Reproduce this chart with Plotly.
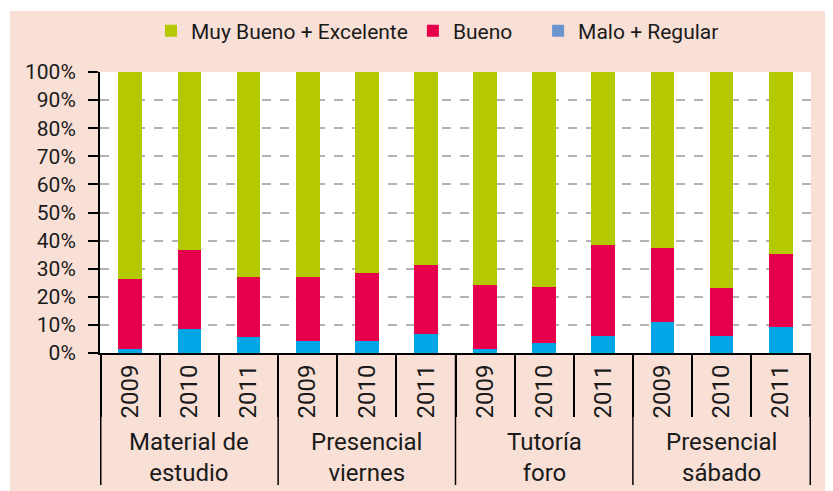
import plotly.graph_objects as go

group_names = ["Material de estudio", "Presencial viernes", "Tutoría foro", "Presencial sábado"]
group_labels = ["Material de<br>estudio", "Presencial<br>viernes", "Tutoría<br>foro", "Presencial<br>sábado"]
year_labels = ["2009", "2010", "2011"]

malo_regular = [1.3, 8.5, 5.7, 4.2, 4.3, 6.7, 1.3, 3.5, 6.1, 10.9, 6.0, 9.3]
bueno = [25.0, 28.1, 21.4, 22.9, 24.2, 24.6, 22.8, 20.0, 32.3, 26.6, 17.1, 25.9]
muy_bueno_excelente = [73.7, 63.4, 72.9, 72.9, 71.5, 68.7, 75.9, 76.5, 61.6, 62.5, 76.9, 64.8]

y_ticks = [0, 10, 20, 30, 40, 50, 60, 70, 80, 90, 100]
y_tick_labels = ["0%", "10%", "20%", "30%", "40%", "50%", "60%", "70%", "80%", "90%", "100%"]

FONT = "Roboto, Liberation Sans, sans-serif"
GREEN = "#b5c900"
RED = "#e6004c"
CYAN = "#00a6e6"
LEGEND_BLUE = "#6a95cf"
PINK = "#f9e0d6"
TXT = "#1a1a1a"

# one category key per bar (group + year); ticks show the year only
cat_keys = [f"{g} {y}" for g in group_names for y in year_labels]
cat_ticks = [y for g in group_names for y in year_labels]

fig = go.Figure()
fig.add_trace(go.Bar(x=cat_keys, y=malo_regular, name="Malo + Regular", marker_color=CYAN,
                     marker_line_width=0, showlegend=False))
fig.add_trace(go.Bar(x=cat_keys, y=bueno, name="Bueno\u00a0\u00a0\u00a0\u00a0",
                     marker_color=RED, marker_line_width=0, legendrank=2))
fig.add_trace(go.Bar(x=cat_keys, y=muy_bueno_excelente, name="Muy Bueno + Excelente",
                     marker_color=GREEN, marker_line_width=0, legendrank=1))
# legend-only entry (legend swatch colour differs from bar colour in the original)
fig.add_trace(go.Scatter(x=[None], y=[None], mode="markers", name="Malo + Regular",
                         marker=dict(symbol="square", size=12, color=LEGEND_BLUE),
                         legendrank=3))

L, T = 92, 64
W, H = 833, 491
pw, ph = 711, 281
R, B = W - L - pw, H - T - ph

def px(v):
    return (v - L) / pw

def py(v):
    return (T + ph - v) / ph

n_per_group = len(year_labels)
boundaries = [i * n_per_group - 0.5 for i in range(len(group_names) + 1)]

shapes = [
    dict(type="line", xref="x", yref="paper", x0=b, x1=b, y0=0, y1=py(477),
         line=dict(color="black", width=1.5), layer="above")
    for b in boundaries
]
shapes += [
    dict(type="rect", xref="paper", yref="paper", x0=px(0), x1=px(2),
         y0=py(H), y1=py(0), fillcolor="white", line_width=0, layer="above"),
    dict(type="rect", xref="paper", yref="paper", x0=px(0), x1=px(W),
         y0=py(3), y1=py(0), fillcolor="white", line_width=0, layer="above"),
]

annotations = [
    dict(x=cat_keys[i * n_per_group + 1], xref="x", y=py(449), yref="paper",
         text=lab, showarrow=False, xanchor="center", yanchor="middle",
         font=dict(size=24, family=FONT, color=TXT))
    for i, lab in enumerate(group_labels)
]

fig.update_layout(
    width=W, height=H,
    margin=dict(l=L, r=R, t=T, b=B, pad=0, autoexpand=False),
    paper_bgcolor=PINK,
    plot_bgcolor="white",
    barmode="stack",
    bargap=0.6,
    font=dict(family=FONT, color=TXT, size=21),
    legend=dict(orientation="h", xref="container", yref="container",
                x=143 / W, xanchor="left", y=1 - 23 / H, yanchor="middle",
                traceorder="normal",
                font=dict(size=21, family=FONT, color=TXT),
                bgcolor="rgba(0,0,0,0)"),
    xaxis=dict(type="category", automargin=False, showline=True,
               linecolor="black", linewidth=2,
               tickmode="array", tickvals=cat_keys, ticktext=cat_ticks,
               ticks="outside", ticklen=62, tickwidth=1.5, tickcolor="black",
               tickson="boundaries", tickangle=-90,
               tickfont=dict(size=24, family=FONT, color=TXT),
               showgrid=False),
    yaxis=dict(range=[0, 100], automargin=False, tickmode="array", tickvals=y_ticks,
               ticktext=y_tick_labels, showline=True,
               linecolor="black", linewidth=2, ticks="outside", ticklen=10,
               tickwidth=2, tickcolor="black", ticklabelstandoff=8,
               showgrid=True, gridcolor="#b3b3b3", gridwidth=1.5, griddash="dash",
               zeroline=False, tickfont=dict(size=21, family=FONT, color=TXT)),
    shapes=shapes,
    annotations=annotations,
)

fig.write_html("out.html")
